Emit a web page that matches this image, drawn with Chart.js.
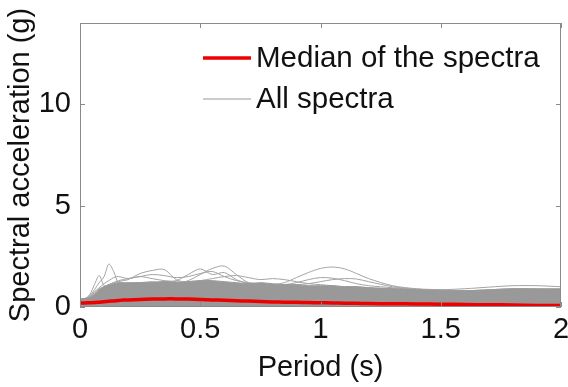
<!DOCTYPE html>
<html>
<head>
<meta charset="utf-8">
<script src="https://cdn.jsdelivr.net/npm/chart.js@4/dist/chart.umd.min.js"></script>
<style>
  html, body { margin: 0; padding: 0; background: #fff; }
  #wrap { width: 568px; height: 387px; }
</style>
</head>
<body>
<div id="wrap"><canvas id="spectraChart"></canvas></div>
<script>
// periods (s) at which the spectra are read
const periods = [0, 0.02, 0.04, 0.06, 0.08, 0.1, 0.12, 0.14, 0.16, 0.18, 0.2, 0.25, 0.3, 0.35, 0.4, 0.45, 0.5, 0.55, 0.6, 0.65, 0.7, 0.75, 0.8, 0.85, 0.9, 0.95, 1.0, 1.05, 1.1, 1.15, 1.2, 1.3, 1.4, 1.5, 1.6, 1.7, 1.8, 1.9, 2.0];

// median of all the spectra (g)
const medianSpectrum = [0.2, 0.2, 0.21, 0.22, 0.24, 0.26, 0.28, 0.3, 0.32, 0.34, 0.35, 0.37, 0.39, 0.4, 0.4, 0.39, 0.37, 0.35, 0.33, 0.31, 0.29, 0.27, 0.25, 0.24, 0.23, 0.22, 0.21, 0.2, 0.19, 0.18, 0.17, 0.16, 0.15, 0.14, 0.12, 0.11, 0.1, 0.08, 0.07];

// upper edge of the dense bundle of spectra (g)
const bundleTop = [0.4, 0.42, 0.45, 0.6, 0.85, 1.0, 1.1, 1.15, 1.2, 1.2, 1.2, 1.2, 1.2, 1.25, 1.2, 1.25, 1.3, 1.3, 1.25, 1.2, 1.15, 1.2, 1.15, 1.1, 1.1, 1.05, 1.05, 1.05, 1.0, 1.0, 0.95, 0.9, 0.85, 0.8, 0.8, 0.85, 0.9, 0.9, 0.9];

// single spectra that stand out of the bundle (g)
const spectrumA = [0.38, 0.42, 0.55, 0.85, 1.2, 1.5, 2.12, 1.75, 1.15, 1.0, 0.95, 0.9, 0.85, 0.85, 0.8, 0.75, 0.7, 0.7, 0.65, 0.6, 0.6, 0.55, 0.55, 0.5, 0.5, 0.5, 0.45, 0.45, 0.45, 0.4, 0.4, 0.4, 0.38, 0.36, 0.36, 0.35, 0.35, 0.34, 0.33];
const spectrumB = [0.36, 0.4, 0.6, 1.1, 1.55, 1.05, 1.0, 1.1, 1.15, 1.1, 1.05, 1.0, 0.95, 0.95, 0.9, 0.9, 0.85, 0.85, 0.8, 0.8, 0.75, 0.75, 0.7, 0.7, 0.7, 0.65, 0.65, 0.65, 0.6, 0.6, 0.6, 0.55, 0.55, 0.5, 0.5, 0.5, 0.5, 0.5, 0.5];
const spectrumC = [0.35, 0.4, 0.5, 0.7, 0.9, 1.0, 1.1, 1.2, 1.25, 1.3, 1.35, 1.65, 1.8, 1.85, 1.35, 1.2, 1.15, 1.1, 1.05, 1.0, 1.0, 0.95, 0.95, 0.9, 0.9, 0.85, 0.85, 0.8, 0.8, 0.8, 0.75, 0.7, 0.7, 0.65, 0.65, 0.65, 0.7, 0.7, 0.65];
const spectrumD = [0.35, 0.38, 0.45, 0.6, 0.8, 0.9, 1.0, 1.05, 1.1, 1.1, 1.15, 1.2, 1.25, 1.2, 1.15, 1.3, 1.6, 1.9, 2.02, 1.6, 1.2, 1.1, 1.05, 1.0, 1.0, 0.95, 0.95, 0.9, 0.9, 0.85, 0.85, 0.8, 0.75, 0.7, 0.7, 0.7, 0.75, 0.75, 0.7];
const spectrumE = [0.34, 0.37, 0.45, 0.6, 0.75, 0.85, 0.95, 1.0, 1.05, 1.1, 1.1, 1.15, 1.2, 1.25, 1.3, 1.6, 1.88, 1.6, 1.7, 1.35, 1.15, 1.1, 1.05, 1.0, 0.95, 0.95, 0.9, 0.9, 0.85, 0.85, 0.8, 0.75, 0.7, 0.7, 0.7, 0.7, 0.7, 0.7, 0.7];
const spectrumF = [0.33, 0.36, 0.42, 0.55, 0.7, 0.8, 0.85, 0.9, 0.95, 1.0, 1.0, 1.05, 1.1, 1.1, 1.1, 1.05, 1.05, 1.1, 1.1, 1.05, 1.0, 1.05, 1.1, 1.2, 1.45, 1.7, 1.9, 1.97, 1.88, 1.65, 1.4, 1.05, 0.9, 0.85, 0.8, 0.8, 0.85, 0.85, 0.85];
const spectrumG = [0.32, 0.35, 0.4, 0.5, 0.65, 0.75, 0.85, 0.9, 0.95, 1.0, 1.0, 1.05, 1.05, 1.1, 1.1, 1.1, 1.15, 1.15, 1.1, 1.1, 1.05, 1.05, 1.05, 1.1, 1.2, 1.35, 1.45, 1.42, 1.3, 1.15, 1.05, 0.95, 0.85, 0.8, 0.8, 0.8, 0.8, 0.8, 0.8];
const spectrumH = [0.3, 0.33, 0.38, 0.48, 0.6, 0.7, 0.8, 0.85, 0.9, 0.95, 0.95, 1.0, 1.0, 1.05, 1.05, 1.05, 1.1, 1.05, 1.05, 1.0, 1.0, 1.0, 1.0, 1.05, 1.1, 1.15, 1.25, 1.35, 1.4, 1.38, 1.25, 1.0, 0.88, 0.82, 0.8, 0.85, 0.9, 0.88, 0.85];
const spectrumI = [0.36, 0.4, 0.5, 0.75, 0.95, 1.15, 1.3, 1.45, 1.5, 1.45, 1.4, 1.5, 1.4, 1.3, 1.25, 1.2, 1.2, 1.15, 1.1, 1.1, 1.05, 1.0, 1.0, 0.95, 0.95, 0.9, 0.9, 0.85, 0.85, 0.8, 0.8, 0.75, 0.75, 0.7, 0.7, 0.7, 0.7, 0.7, 0.7];
const spectrumJ = [0.34, 0.37, 0.44, 0.6, 0.75, 0.85, 0.9, 0.95, 1.0, 1.05, 1.1, 1.1, 1.15, 1.2, 1.2, 1.25, 1.3, 1.4, 1.5, 1.55, 1.45, 1.35, 1.4, 1.35, 1.25, 1.15, 1.1, 1.05, 1.0, 1.0, 0.95, 0.9, 0.85, 0.8, 0.8, 0.8, 0.85, 0.85, 0.8];
const spectrumK = [0.3, 0.33, 0.38, 0.5, 0.62, 0.72, 0.8, 0.85, 0.9, 0.92, 0.95, 1.0, 1.0, 1.05, 1.05, 1.05, 1.05, 1.05, 1.0, 1.0, 1.0, 1.0, 0.95, 0.95, 0.95, 0.95, 0.95, 0.95, 0.9, 0.9, 0.9, 0.88, 0.85, 0.85, 0.9, 0.98, 1.05, 1.05, 1.0];
const spectrumL = [0.33, 0.36, 0.45, 0.65, 0.85, 1.0, 1.1, 1.2, 1.3, 1.35, 1.4, 1.5, 1.6, 1.55, 1.45, 1.5, 1.65, 1.75, 1.5, 1.3, 1.2, 1.15, 1.1, 1.1, 1.05, 1.0, 1.0, 0.95, 0.95, 0.9, 0.9, 0.85, 0.8, 0.75, 0.75, 0.75, 0.75, 0.75, 0.75];

const outlierSpectra = [spectrumA, spectrumB, spectrumC, spectrumD, spectrumE, spectrumF,
                        spectrumG, spectrumH, spectrumI, spectrumJ, spectrumK, spectrumL];

const xTicks = [0, 0.5, 1, 1.5, 2];
const yTicks = [0, 5, 10];

const FONT = 'Liberation Sans, Arial, Helvetica, sans-serif';
const TEXT = '#111111';
const AXIS = '#8a8a8a';
const GREY = '#999999';

const toPoints = vals => periods.map((p, i) => ({ x: p, y: vals[i] }));

const datasets = [
  {
    label: 'Median of the spectra',
    data: toPoints(medianSpectrum),
    borderColor: '#ee0000',
    borderWidth: 3.5,
    inLegend: true
  },
  {
    label: 'All spectra',
    data: toPoints(bundleTop),
    borderColor: GREY,
    backgroundColor: GREY,
    borderWidth: 1,
    fill: 'origin',
    inLegend: true
  }
];
outlierSpectra.forEach(s => {
  datasets.push({
    label: '',
    data: toPoints(s),
    borderColor: '#a3a3a3',
    borderWidth: 1,
    inLegend: false
  });
});

// inward MATLAB style ticks, box, and legend
const boxPlugin = {
  id: 'box',
  afterDraw(chart) {
    const { ctx, chartArea: a, scales } = chart;
    ctx.save();
    ctx.strokeStyle = AXIS;
    ctx.lineWidth = 1;
    ctx.strokeRect(a.left + 0.5, a.top + 0.5, a.right - a.left - 1, a.bottom - a.top - 1);
    const tl = 5;
    ctx.beginPath();
    xTicks.forEach(v => {
      const x = Math.round(scales.x.getPixelForValue(v)) + 0.5;
      ctx.moveTo(x, a.bottom); ctx.lineTo(x, a.bottom - tl);
      ctx.moveTo(x, a.top); ctx.lineTo(x, a.top + tl);
    });
    yTicks.forEach(v => {
      const y = Math.round(scales.y.getPixelForValue(v)) + 0.5;
      ctx.moveTo(a.left, y); ctx.lineTo(a.left + tl, y);
      ctx.moveTo(a.right, y); ctx.lineTo(a.right - tl, y);
    });
    ctx.stroke();

    // legend
    const items = chart.data.datasets.filter(d => d.inLegend);
    const rows = [58, 99];
    ctx.font = '29.5px ' + FONT;
    ctx.textBaseline = 'middle';
    ctx.fillStyle = TEXT;
    items.forEach((d, i) => {
      const y = rows[i];
      ctx.strokeStyle = d.borderColor;
      ctx.lineWidth = d.borderWidth;
      ctx.beginPath();
      ctx.moveTo(203, y); ctx.lineTo(251, y);
      ctx.stroke();
      ctx.fillText(d.label, 256, y + 1);
    });
    ctx.restore();
  }
};

new Chart(document.getElementById('spectraChart'), {
  type: 'line',
  data: { datasets },
  options: {
    responsive: true,
    maintainAspectRatio: false,
    animation: false,
    layout: { padding: { top: 23, right: 7, left: 0, bottom: 0 } },
    elements: {
      point: { radius: 0 },
      line: { tension: 0.3, fill: false }
    },
    plugins: {
      legend: { display: false },
      tooltip: { enabled: false }
    },
    scales: {
      x: {
        type: 'linear',
        min: 0,
        max: 2,
        afterFit: s => { s.height = 80; s.paddingLeft = 0; s.paddingRight = 0; },
        afterBuildTicks: s => { s.ticks = xTicks.map(v => ({ value: v })); },
        grid: { display: false, drawTicks: false },
        border: { display: false },
        ticks: {
          padding: 6,
          color: TEXT,
          maxRotation: 0,
          font: { family: FONT, size: 29 },
          callback: v => String(v)
        },
        title: {
          display: true,
          text: 'Period (s)',
          color: TEXT,
          font: { family: FONT, size: 29 },
          padding: { top: 0, bottom: 2 }
        }
      },
      y: {
        min: 0,
        max: 14,
        afterFit: s => { s.width = 80; s.paddingTop = 0; s.paddingBottom = 0; },
        afterBuildTicks: s => { s.ticks = yTicks.map(v => ({ value: v })); },
        grid: { display: false, drawTicks: false },
        border: { display: false },
        ticks: {
          padding: 9,
          color: TEXT,
          font: { family: FONT, size: 29 },
          callback: v => String(v)
        },
        title: {
          display: true,
          text: 'Spectral acceleration (g)',
          color: TEXT,
          font: { family: FONT, size: 29 },
          padding: { top: 4, bottom: 4 }
        }
      }
    }
  },
  plugins: [boxPlugin]
});
</script>
</body>
</html>
